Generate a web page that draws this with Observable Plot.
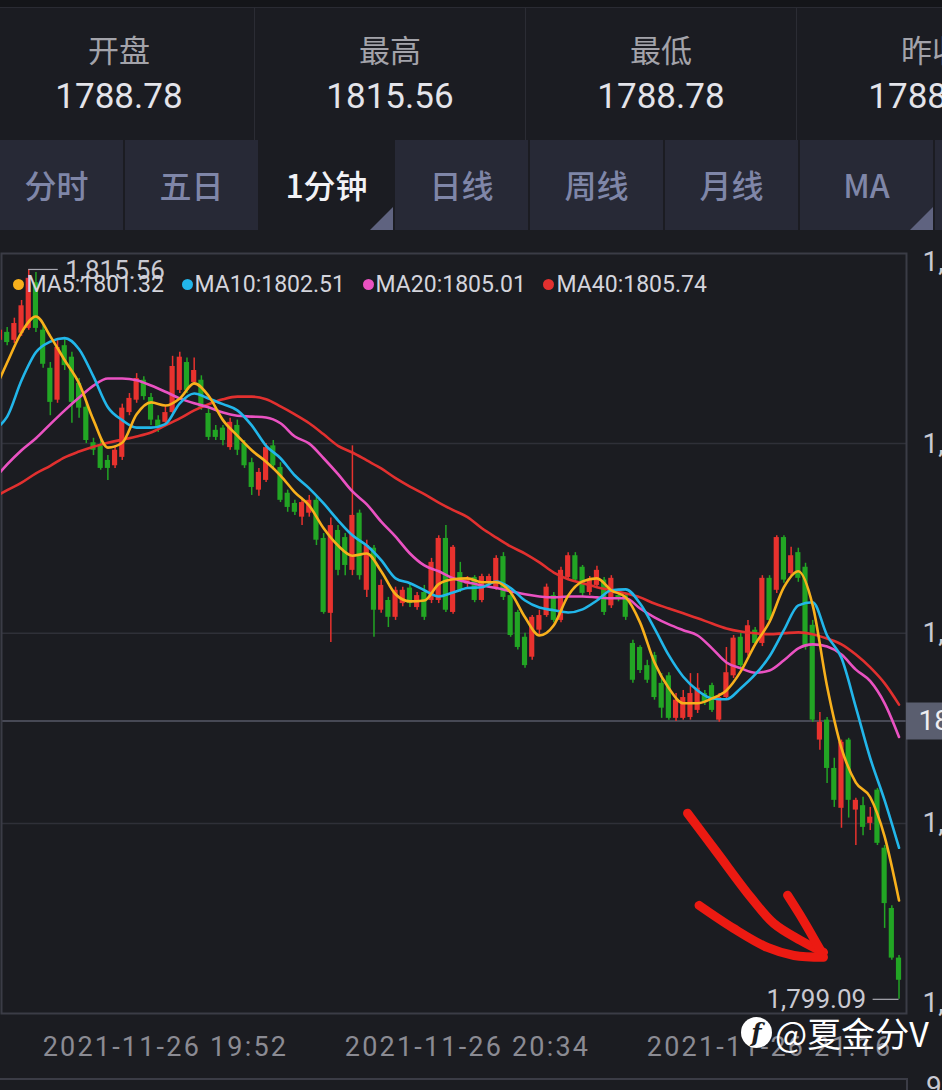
<!DOCTYPE html>
<html><head><meta charset="utf-8">
<script src="https://cdn.jsdelivr.net/npm/d3@7"></script>
<script src="https://cdn.jsdelivr.net/npm/@observablehq/plot@0.6"></script>
<style>
html,body{margin:0;padding:0;background:#1b1c21;}
#page{position:relative;width:942px;height:1090px;overflow:hidden;background:#1b1c21;font-family:Roboto,"Noto Sans CJK SC",sans-serif;}
.topbar{position:absolute;left:0;top:0;width:942px;height:7px;background:#141519;border-bottom:1px solid #2a2b33;}
.stat{position:absolute;top:8px;height:132px;width:271px;box-sizing:border-box;border-right:1px solid #2b2c34;background:#1b1c22;text-align:center;}
.stat .lab{position:absolute;left:0;right:0;top:21px;height:40px;line-height:40px;font-family:"Noto Sans CJK SC";font-size:31px;color:#a3a3aa;}
.stat .val{position:absolute;left:0;right:0;top:69px;height:40px;line-height:40px;font-family:Roboto;font-size:35px;color:#e4e4ea;}
.tab{position:absolute;top:140px;height:90px;width:135px;box-sizing:border-box;border-left:2px solid #1b1c22;background:#272936;text-align:center;line-height:88px;font-family:"Noto Sans CJK SC";font-size:32px;font-weight:500;color:#7f86a8;}
.tab.active{background:#1b1c22;color:#f2f2f6;}
.tab .tri{position:absolute;right:0;bottom:0;width:0;height:0;border-left:23px solid transparent;border-bottom:23px solid #5f6380;}
#chart{position:absolute;left:0;top:230px;width:942px;height:860px;overflow:hidden;}
.wm{position:absolute;left:741px;top:1012px;height:40px;display:flex;align-items:center;color:#ffffff;font-family:"Noto Sans CJK SC";font-size:34px;}
.wm .logo{width:31px;height:31px;border-radius:50%;background:#ffffff;color:#1b1c21;font-family:"DejaVu Serif";font-style:italic;font-weight:bold;font-size:24px;line-height:31px;text-align:center;margin-right:3px;}
.lower{position:absolute;left:0;top:1078px;width:906px;height:12px;border-top:2px solid #3b3c46;border-right:2px solid #3b3c46;}
.lower-lab{position:absolute;left:926px;top:1070px;font-family:Roboto;font-size:28px;color:#c9c9d1;}
</style></head>
<body><div id="page">
<div class="topbar"></div>
<div id="stats"></div>
<div id="tabs"></div>
<div id="chart"></div>
<div class="lower"></div>
<div class="lower-lab">9</div>
<div class="wm"><div class="logo">f</div><span>@夏金分V</span></div>
</div>
<script>
// ---------- header data ----------
const statLabels = ["开盘","最高","最低","昨收"];
const statValues = ["1788.78","1815.56","1788.78","1788.78"];
const tabLabels = ["分时","五日","1分钟","日线","周线","月线","MA",""];
const activeTab = 2;
const tabsWithCorner = [2, 6];

// ---------- candle data (1-minute, index 0 = 19:30) ----------
const idx = d3.range(-1, 125);
const open = [
1813.96,1814.14,1813.96,1814.12,1814.23,1815.26,1814.19,1813.33,1812.61,1813.84,
1813.58,1812.99,1812.45,1811.65,1811.58,1811.25,1811.13,1811.32,1812.33,1812.61,
1813.06,1812.67,1812.16,1812.11,1812.33,1812.83,1813.46,1813.01,1813.06,1812.31,
1811.93,1811.98,1811.54,1812.04,1811.63,1811.20,1810.58,1810.80,1811.58,1811.09,
1810.51,1810.28,1809.97,1810.06,1810.35,1809.49,1807.80,1809.67,1809.51,1808.77,
1810.06,1808.32,1809.27,1807.87,1808.09,1807.71,1808.02,1808.37,1807.93,1808.27,
1808.09,1808.09,1809.49,1807.82,1808.72,1808.46,1808.61,1808.09,1808.50,1808.37,
1809.08,1808.20,1807.82,1807.26,1806.81,1807.42,1807.75,1808.20,1807.64,1808.61,
1809.10,1808.84,1808.27,1808.43,1808.55,1807.97,1808.20,1808.20,1807.12,1807.03,
1806.62,1806.85,1806.22,1806.39,1805.43,1805.43,1805.45,1805.61,1805.99,1806.17,
1805.39,1805.90,1806.39,1807.26,1806.90,1807.42,1807.12,1808.59,1808.32,1809.51,
1808.70,1809.17,1808.84,1807.53,1804.94,1805.39,1804.30,1803.40,1804.94,1803.36,
1803.46,1803.06,1803.81,1802.50,1801.14,1800.02];
const high = [
1814.25,1814.25,1814.46,1814.86,1815.56,1815.49,1814.36,1813.46,1813.96,1814.01,
1813.69,1813.10,1812.54,1811.75,1811.70,1811.36,1811.58,1812.52,1812.76,1813.21,
1813.14,1812.76,1812.26,1812.49,1813.60,1813.69,1813.56,1813.56,1813.16,1812.43,
1812.04,1812.04,1812.20,1812.16,1811.70,1811.30,1811.07,1811.63,1811.70,1811.20,
1810.58,1810.35,1810.40,1810.46,1810.46,1809.60,1809.95,1809.78,1809.60,1811.58,
1810.13,1809.45,1809.33,1808.55,1808.16,1808.39,1808.39,1808.48,1808.27,1808.43,
1809.04,1809.55,1809.78,1809.33,1808.95,1808.63,1808.65,1808.68,1808.68,1809.10,
1809.17,1808.27,1807.87,1807.35,1807.75,1807.87,1808.46,1808.27,1808.84,1809.17,
1809.17,1808.88,1808.63,1808.86,1808.61,1808.65,1808.27,1808.27,1807.19,1807.07,
1806.74,1806.92,1806.44,1806.46,1805.99,1806.06,1806.44,1806.44,1806.06,1806.22,
1805.99,1807.03,1807.30,1807.35,1807.64,1807.48,1808.65,1808.65,1809.55,1809.55,
1809.29,1809.27,1808.93,1807.64,1805.56,1805.45,1804.53,1804.94,1804.98,1803.63,
1803.65,1803.42,1803.85,1802.56,1801.20,1800.08];
const low = [
1813.91,1813.84,1813.89,1814.05,1814.19,1814.14,1813.33,1812.26,1812.54,1813.28,
1812.09,1812.20,1811.63,1811.36,1811.03,1810.80,1811.07,1811.25,1812.26,1812.54,
1812.61,1812.04,1811.88,1812.04,1812.26,1812.76,1812.76,1812.94,1812.38,1811.70,
1811.70,1811.58,1811.48,1811.36,1811.07,1810.46,1810.44,1810.75,1811.03,1810.30,
1810.08,1810.01,1809.78,1809.97,1809.33,1807.78,1807.14,1808.65,1808.65,1808.65,
1808.55,1808.16,1807.26,1807.80,1807.48,1807.64,1807.95,1807.93,1807.87,1807.64,
1808.02,1808.02,1807.82,1807.78,1808.27,1808.37,1808.04,1808.04,1808.41,1808.32,
1808.09,1807.26,1806.97,1806.56,1806.74,1807.30,1807.71,1807.59,1807.59,1808.55,
1808.50,1808.18,1808.20,1808.37,1807.75,1807.91,1808.06,1807.64,1806.22,1806.44,
1806.22,1805.84,1805.43,1805.39,1805.36,1805.39,1805.39,1805.54,1805.72,1805.56,
1805.34,1805.84,1806.33,1806.56,1806.83,1807.05,1807.05,1807.57,1808.25,1808.48,
1808.63,1808.50,1806.97,1805.34,1804.71,1803.96,1803.42,1802.95,1803.18,1802.56,
1802.78,1802.90,1802.56,1800.69,1799.97,1799.09];
const close = [
1814.19,1813.91,1814.34,1814.74,1815.36,1814.23,1813.42,1812.56,1813.80,1813.39,
1812.56,1812.43,1811.70,1811.48,1811.07,1811.07,1811.48,1812.43,1812.65,1813.10,
1812.69,1812.16,1811.98,1812.33,1813.37,1813.58,1812.83,1813.28,1812.45,1811.77,
1811.77,1811.70,1812.11,1811.48,1811.13,1810.64,1810.98,1811.54,1811.13,1810.35,
1810.19,1810.08,1810.30,1810.35,1809.45,1807.82,1809.78,1808.77,1808.88,1810.01,
1808.65,1809.33,1807.87,1808.43,1807.71,1808.32,1808.32,1808.02,1808.20,1807.71,
1808.95,1809.49,1807.87,1809.29,1808.32,1808.55,1808.09,1808.63,1808.63,1809.04,
1808.16,1807.30,1807.03,1806.62,1807.71,1807.75,1808.39,1807.64,1808.77,1809.10,
1808.55,1808.25,1808.55,1808.77,1807.82,1808.59,1808.14,1807.71,1806.29,1806.51,
1806.29,1805.90,1805.66,1805.43,1805.84,1805.90,1805.99,1806.11,1805.79,1805.61,
1805.90,1806.46,1807.24,1806.62,1807.52,1807.12,1808.59,1807.64,1809.51,1808.55,
1809.10,1808.59,1807.03,1805.39,1805.34,1804.30,1803.58,1804.89,1803.58,1803.58,
1802.97,1803.20,1802.61,1801.25,1800.02,1799.52];

// ---------- moving averages read at every second candle ----------
const maIdx = [-1].concat(d3.range(0, 125, 2));
const ma5 = [
1813.10,1813.46,1814.14,1814.50,1814.05,1813.51,1812.99,1812.16,1811.54,1811.65,
1812.29,1812.56,1812.49,1812.65,1812.99,1812.71,1812.16,1811.81,1811.48,1811.22,
1810.91,1810.53,1810.23,1809.72,1809.33,1809.10,1809.15,1808.75,1808.23,1808.07,
1808.09,1808.46,1808.57,1808.59,1808.50,1808.50,1808.27,1807.71,1807.30,1807.53,
1808.20,1808.52,1808.59,1808.32,1808.16,1807.59,1806.69,1806.11,1805.77,1805.77,
1805.88,1806.06,1806.49,1807.10,1807.61,1808.39,1808.75,1807.98,1806.15,1804.76,
1803.98,1803.65,1802.76,1801.32];
const ma10 = [
1812.04,1812.24,1813.06,1813.69,1813.93,1814.01,1813.76,1813.14,1812.45,1812.16,
1811.99,1811.99,1812.07,1812.54,1812.76,1812.65,1812.52,1812.38,1812.04,1811.58,
1811.30,1810.91,1810.62,1810.28,1809.90,1809.56,1809.33,1809.00,1808.59,1808.48,
1808.32,1808.18,1808.27,1808.37,1808.39,1808.52,1808.37,1808.09,1807.93,1807.87,
1807.82,1807.89,1808.09,1808.32,1808.34,1808.02,1807.46,1806.85,1806.37,1806.06,
1805.88,1805.86,1806.11,1806.42,1806.83,1807.42,1807.98,1808.05,1807.30,1806.79,
1805.68,1804.53,1803.58,1802.51];
const ma20 = [
1810.98,1811.16,1811.48,1811.75,1812.07,1812.38,1812.67,1812.94,1813.10,1813.10,
1813.06,1812.94,1812.80,1812.65,1812.54,1812.45,1812.33,1812.26,1812.24,1812.22,
1812.09,1811.79,1811.63,1811.30,1810.94,1810.55,1810.26,1809.87,1809.53,1809.15,
1808.88,1808.75,1808.59,1808.50,1808.43,1808.37,1808.30,1808.23,1808.18,1808.16,
1808.18,1808.18,1808.16,1808.14,1808.14,1807.91,1807.71,1807.55,1807.42,1807.30,
1807.01,1806.69,1806.56,1806.46,1806.51,1806.74,1807.01,1807.10,1807.05,1806.87,
1806.53,1806.27,1805.77,1805.01];
const ma40 = [
1810.49,1810.58,1810.75,1810.96,1811.13,1811.32,1811.45,1811.56,1811.65,1811.72,
1811.79,1811.88,1812.04,1812.20,1812.38,1812.52,1812.63,1812.69,1812.69,1812.63,
1812.47,1812.29,1812.09,1811.84,1811.58,1811.43,1811.25,1811.07,1810.85,1810.66,
1810.49,1810.30,1810.13,1809.97,1809.72,1809.51,1809.31,1809.15,1808.95,1808.72,
1808.57,1808.48,1808.39,1808.32,1808.25,1808.16,1808.02,1807.91,1807.80,1807.69,
1807.57,1807.46,1807.39,1807.35,1807.33,1807.35,1807.37,1807.33,1807.23,1807.10,
1806.87,1806.58,1806.22,1805.74];
const maNames = ["MA5","MA10","MA20","MA40"];
const maLast = [1801.32, 1802.51, 1805.01, 1805.74];
const maColors = ["#f8b01c","#22b6ea","#ea52c2","#e2302f"];

// ---------- axes ----------
const yTicks = [1815.92, 1811.63, 1807.35, 1803.06, 1798.77];
const xTickIdx = [22, 64, 106];
const xTickLabels = ["2021-11-26 19:52","2021-11-26 20:34","2021-11-26 21:16"];
const refPrice = 1805.37;

// ---------- hand-drawn arrow annotation (candle index, price) ----------
const arrowShaftK = [94.6, 98.8, 103.4, 106.6, 110.3, 113.5];
const arrowShaftP = [1803.29, 1802.38, 1801.39, 1800.80, 1800.42, 1800.15];
const arrowLowK = [96.2, 101.0, 105.7, 109.4, 113.5];
const arrowLowP = [1801.21, 1800.69, 1800.26, 1800.08, 1800.04];
const arrowHighK = [108.5, 110.7, 113.1];
const arrowHighP = [1801.44, 1800.87, 1800.19];

// ---------- header DOM ----------
const statsEl = document.getElementById("stats");
statLabels.forEach((l, i) => {
  const c = document.createElement("div");
  c.className = "stat";
  c.style.left = (-16 + 271 * i) + "px";
  c.innerHTML = `<div class="lab">${l}</div><div class="val">${statValues[i]}</div>`;
  statsEl.appendChild(c);
});
const tabsEl = document.getElementById("tabs");
tabLabels.forEach((l, i) => {
  const t = document.createElement("div");
  t.className = "tab" + (i === activeTab ? " active" : "");
  t.style.left = (-12 + 135 * i) + "px";
  t.innerHTML = l + (tabsWithCorner.includes(i) ? '<div class="tri"></div>' : "");
  tabsEl.appendChild(t);
});

// ---------- chart ----------
const RED = "#e8322e", GREEN = "#22a524";
const candles = idx.map((k, i) => ({k, o: open[i], h: high[i], l: low[i], c: close[i]}));
const colorOf = d => d.c >= d.o ? RED : GREEN;
const maSeries = [ma5, ma10, ma20, ma40];
const maRows = maSeries.map((arr, s) => maIdx.map((k, i) => ({k, v: arr[i], s})));
const fmt = d3.format(",.2f");
const iMax = d3.maxIndex(high), iMin = d3.minIndex(low);
const maxPt = [{k: idx[iMax], v: high[iMax]}];
const minPt = [{k: idx[iMin], v: low[iMin]}];
const toRows = (ks, ps) => ks.map((k, i) => ({k, p: ps[i]}));
const arrows = [toRows(arrowShaftK, arrowShaftP), toRows(arrowLowK, arrowLowP), toRows(arrowHighK, arrowHighP)];
const legendDotX = [17, 186, 367, 547];
const legendTextX = [25, 193, 374, 555];
const X0 = -0.79, X1 = 125.04;

const txt = {fontFamily: "Roboto"};
const marks = [
  Plot.ruleY(yTicks.slice(1, 4), {stroke: "#2f3038", strokeWidth: 1.5}),
  Plot.ruleY([refPrice], {stroke: "#474955", strokeWidth: 2}),
  Plot.frame({stroke: "#3b3c46", strokeWidth: 2}),
  Plot.ruleX(candles, {x: "k", y1: "l", y2: "h", stroke: colorOf, strokeWidth: 1.5, clip: true}),
  Plot.rect(candles, {x1: d => d.k - 0.36, x2: d => d.k + 0.36, y1: "o", y2: "c", fill: colorOf, clip: true}),
  ...[3, 2, 1, 0].map(s => Plot.line(maRows[s], {x: "k", y: "v", stroke: maColors[s], strokeWidth: 2.6, curve: "monotone-x", clip: true})),
  // max / min markers
  Plot.ruleY(maxPt, {y: "v", x1: "k", x2: d => d.k + 4.1, stroke: "#a9a9b2", strokeWidth: 1.2}),
  Plot.text(maxPt, {...txt, x: d => d.k + 4.1, y: "v", dx: 7, dy: 1, textAnchor: "start", text: d => fmt(d.v), fontSize: 26, fill: "#c9c9d1"}),
  Plot.ruleY(minPt, {y: "v", x1: d => d.k - 3.6, x2: "k", stroke: "#a9a9b2", strokeWidth: 1.2}),
  Plot.text(minPt, {...txt, x: d => d.k - 3.6, y: "v", dx: -7, textAnchor: "end", text: d => fmt(d.v), fontSize: 26, fill: "#c9c9d1"}),
  // legend
  ...maNames.map((n, s) => Plot.dot([0], {frameAnchor: "top-left", dx: legendDotX[s], dy: 31, r: 5.5, fill: maColors[s], stroke: null})),
  ...maNames.map((n, s) => Plot.text([`${n}:${maLast[s].toFixed(2)}`], {...txt, frameAnchor: "top-left", lineAnchor: "middle", dx: legendTextX[s], dy: 31, text: d => d, textAnchor: "start", fontSize: 23, fill: "#d4d4dc"})),
  // arrow annotation
  ...arrows.map(rows => Plot.line(rows, {x: "k", y: "p", stroke: "#ec1a12", strokeWidth: 9, curve: "catmull-rom", strokeLinecap: "round", strokeLinejoin: "round"})),
  // right axis
  Plot.text(yTicks.slice(1, 4), {...txt, y: d => d, x: X1, dx: 16, textAnchor: "start", text: d => fmt(d), fontSize: 28, fill: "#c9c9d1"}),
  Plot.text([yTicks[0]], {...txt, y: d => d, x: X1, dx: 16, dy: 9, textAnchor: "start", text: d => fmt(d), fontSize: 28, fill: "#c9c9d1"}),
  Plot.text([yTicks[4]], {...txt, y: d => d, x: X1, dx: 16, dy: -10, textAnchor: "start", text: d => fmt(d), fontSize: 28, fill: "#c9c9d1"}),
  Plot.ruleY([refPrice], {x1: X1, x2: X1 + 8, stroke: "#5a5e6f", strokeWidth: 37}),
  Plot.text([refPrice], {...txt, y: d => d, x: X1, dx: 12, textAnchor: "start", text: d => d.toFixed(2), fontSize: 28, fill: "#eeeef2"}),
  // time axis
  Plot.text(xTickIdx, {...txt, className: "xlab", x: d => d, frameAnchor: "bottom", lineAnchor: "middle", dy: 34, text: (d, i) => xTickLabels[i], fontSize: 27, fill: "#8b8b93"})
];

const svg = Plot.plot({
  width: 942, height: 860,
  marginTop: 23, marginBottom: 77, marginLeft: 1, marginRight: 36,
  style: {background: "#1b1c21", color: "#c9c9d1", fontFamily: "Roboto", overflow: "hidden"},
  x: {type: "linear", domain: [X0, X1], axis: null},
  y: {domain: [yTicks[4], yTicks[0]], axis: null},
  color: {type: "identity"},
  marks
});
svg.querySelectorAll(".xlab text").forEach(t => t.setAttribute("letter-spacing", "2.2"));
document.getElementById("chart").appendChild(svg);
</script>
</body></html>
